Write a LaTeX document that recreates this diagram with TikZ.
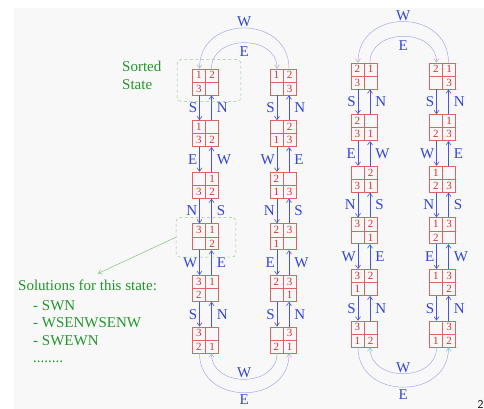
\documentclass[tikz,border=0pt]{standalone}
\usepackage{fontspec}
\setmainfont{Liberation Serif}
\usetikzlibrary{calc,fit,arrows.meta}

\definecolor{boxred}{RGB}{222,100,100}
\definecolor{digred}{RGB}{222,45,45}
\definecolor{movblue}{RGB}{70,85,225}
\definecolor{lblblue}{RGB}{50,70,225}
\definecolor{arcblue}{RGB}{165,170,240}
\definecolor{txtgreen}{RGB}{35,150,45}
\definecolor{dashgreen}{RGB}{150,200,150}
\definecolor{ptrgreen}{RGB}{125,195,125}
\definecolor{bggray}{RGB}{248,248,248}

\tikzset{
  >={Straight Barb[length=3.5pt,width=5pt]},
  board/.style={draw=boxred, line width=0.8pt, minimum size=26pt, inner sep=0pt},
  boxgrid/.style={draw=boxred, line width=0.6pt},
  digit/.style={text=digred, font=\fontsize{11}{11}\selectfont, inner sep=0pt},
  move/.style={->, draw=movblue, line width=0.6pt},
  swing/.style={->, draw=arcblue, line width=0.5pt},
  lbl/.style={text=lblblue, font=\fontsize{15}{15}\selectfont},
  dirL/.style={lbl, left, inner sep=2pt},
  dirR/.style={lbl, right, inner sep=2pt, xshift=3pt},
  dashbox/.style={draw=dashgreen, dash pattern=on 3pt off 2.5pt, rounded corners=4pt, inner sep=0pt, line width=0.5pt},
  note/.style={text=txtgreen, font=\fontsize{15}{17.5}\selectfont, align=left, inner sep=0pt},
  pointer/.style={->, draw=ptrgreen, line width=0.5pt}
}

% 名称, 位置, 左上, 右上, 左下, 右下
\newcommand{\pzbox}[6]{%
  \node[board] (#1) at (#2) {};
  \draw[boxgrid] (#1.north) -- (#1.south) (#1.west) -- (#1.east);
  \node[digit] at ($(#1.north west)!0.5!(#1.center)$) {#3};
  \node[digit] at ($(#1.north east)!0.5!(#1.center)$) {#4};
  \node[digit] at ($(#1.south west)!0.5!(#1.center)$) {#5};
  \node[digit] at ($(#1.south east)!0.5!(#1.center)$) {#6};
}
% 上, 下, 向下标签, 向上标签
\newcommand{\pzmove}[4]{%
  \draw[move] ([xshift=-6pt]#1.south) -- node[dirL]{#3} ([xshift=-6pt]#2.north);
  \draw[move] ([xshift=6pt]#2.north) -- node[dirR]{#4} ([xshift=6pt]#1.south);
}

\begin{document}
\begin{tikzpicture}[x=1pt, y=1pt]
    \useasboundingbox (0,0) rectangle (484,-409);
    \fill[bggray] (14,-8) rectangle (484,-409);

    % 左边一组
    \pzbox{a1}{205.5,-82}{1}{2}{3}{}
    \pzbox{a2}{205.5,-133.6}{1}{}{3}{2}
    \pzbox{a3}{205.5,-185.2}{}{1}{3}{2}
    \pzbox{a4}{205.5,-236.8}{3}{1}{}{2}
    \pzbox{a5}{205.5,-288.4}{3}{1}{2}{}
    \pzbox{a6}{205.5,-340}{3}{}{2}{1}
    \pzbox{b1}{283,-82}{1}{2}{}{3}
    \pzbox{b2}{283,-133.6}{}{2}{1}{3}
    \pzbox{b3}{283,-185.2}{2}{}{1}{3}
    \pzbox{b4}{283,-236.8}{2}{3}{1}{}
    \pzbox{b5}{283,-288.4}{2}{3}{}{1}
    \pzbox{b6}{283,-340}{}{3}{2}{1}

    \pzmove{a1}{a2}{S}{N}
    \pzmove{a2}{a3}{E}{W}
    \pzmove{a3}{a4}{N}{S}
    \pzmove{a4}{a5}{W}{E}
    \pzmove{a5}{a6}{S}{N}
    \pzmove{b1}{b2}{S}{N}
    \pzmove{b2}{b3}{W}{E}
    \pzmove{b3}{b4}{N}{S}
    \pzmove{b4}{b5}{E}{W}
    \pzmove{b5}{b6}{S}{N}

    \draw[swing] ([xshift=6pt]b1.north) to[out=90, in=90, looseness=1.55] node[lbl, above, inner sep=1pt]{W} ([xshift=-6pt]a1.north);
    \draw[swing] ([xshift=6pt]a1.north) to[out=90, in=90, looseness=1.35] node[lbl, below, inner sep=4pt]{E} ([xshift=-6pt]b1.north);
    \draw[swing] ([xshift=-6pt]b6.south) to[out=-90, in=-90, looseness=1.35] node[lbl, above, inner sep=1pt]{W} ([xshift=6pt]a6.south);
    \draw[swing] ([xshift=-6pt]a6.south) to[out=-90, in=-90, looseness=1.5] node[lbl, below, inner sep=2pt]{E} ([xshift=6pt]b6.south);

    % 右边一组
    \pzbox{c1}{364,-76}{2}{1}{3}{}
    \pzbox{c2}{364,-127.6}{2}{}{3}{1}
    \pzbox{c3}{364,-179.2}{}{2}{3}{1}
    \pzbox{c4}{364,-230.8}{3}{2}{}{1}
    \pzbox{c5}{364,-282.4}{3}{2}{1}{}
    \pzbox{c6}{364,-334}{3}{}{1}{2}
    \pzbox{d1}{442.5,-76}{2}{1}{}{3}
    \pzbox{d2}{442.5,-127.6}{}{1}{2}{3}
    \pzbox{d3}{442.5,-179.2}{1}{}{2}{3}
    \pzbox{d4}{442.5,-230.8}{1}{3}{2}{}
    \pzbox{d5}{442.5,-282.4}{1}{3}{}{2}
    \pzbox{d6}{442.5,-334}{}{3}{1}{2}

    \pzmove{c1}{c2}{S}{N}
    \pzmove{c2}{c3}{E}{W}
    \pzmove{c3}{c4}{N}{S}
    \pzmove{c4}{c5}{W}{E}
    \pzmove{c5}{c6}{S}{N}
    \pzmove{d1}{d2}{S}{N}
    \pzmove{d2}{d3}{W}{E}
    \pzmove{d3}{d4}{N}{S}
    \pzmove{d4}{d5}{E}{W}
    \pzmove{d5}{d6}{S}{N}

    \draw[swing] ([xshift=6pt]d1.north) to[out=90, in=90, looseness=1.55] node[lbl, above, inner sep=1pt]{W} ([xshift=-6pt]c1.north);
    \draw[swing] ([xshift=6pt]c1.north) to[out=90, in=90, looseness=1.35] node[lbl, below, inner sep=4pt]{E} ([xshift=-6pt]d1.north);
    \draw[swing] ([xshift=-6pt]d6.south) to[out=-90, in=-90, looseness=1.35] node[lbl, above, inner sep=1pt]{W} ([xshift=6pt]c6.south);
    \draw[swing] ([xshift=-6pt]c6.south) to[out=-90, in=-90, looseness=1.5] node[lbl, below, inner sep=2pt]{E} ([xshift=6pt]d6.south);

    % 目标状态
    \node[dashbox, fit={($(a1.north west)+(-15,9)$) ($(a1.south east)+(22,-6)$)}] (sorted) {};
    \node[note, anchor=west] (sortlbl) at (122,-75.5) {Sorted\\State};

    % 选中的状态与解
    \node[dashbox, fit={($(a4.north west)+(-16,6)$) ($(a4.south east)+(17,-7)$)}] (picked) {};
    \node[note, anchor=north west] (sol) at (18,-279.5) {Solutions for this state:\\[2.5pt]
      \hspace*{15pt}- SWN\\
      \hspace*{15pt}- WSENWSENW\\
      \hspace*{15pt}- SWEWN\\
      \hspace*{15pt}........};
    \coordinate (tip) at ($(sol.north west)+(80,6)$);
    \draw[pointer] (picked.west) -- (tip);

    % 页码
    \node[anchor=base west, inner sep=0pt, font=\sffamily\fontsize{12}{12}\selectfont] (page) at (477.5,-408) {2};
\end{tikzpicture}
\end{document}
